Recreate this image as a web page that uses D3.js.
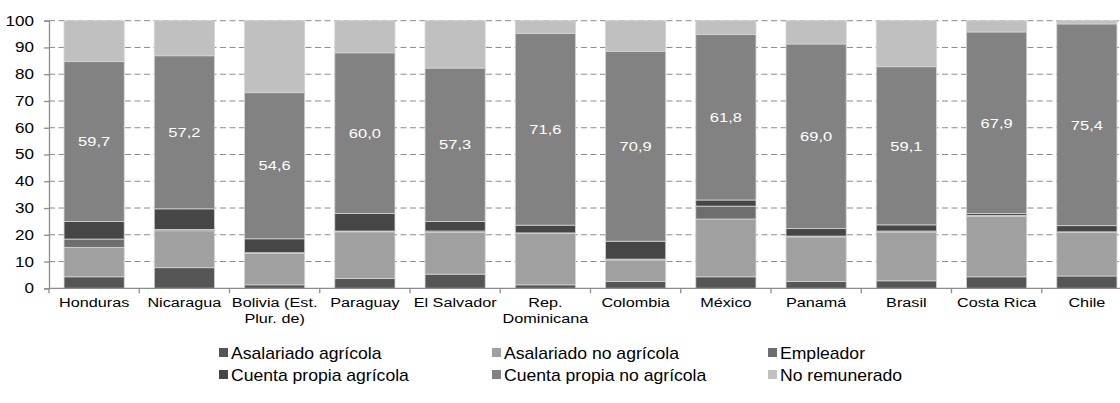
<!DOCTYPE html>
<html>
<head>
<meta charset="utf-8">
<script src="https://cdn.jsdelivr.net/npm/d3@7"></script>
<style>
  html, body { margin: 0; padding: 0; background: #ffffff; }
  svg { display: block; font-family: "Liberation Sans", Arial, sans-serif; }
</style>
</head>
<body>
<svg id="chart" width="1120" height="403"></svg>
<script>
// Countries, in the order they appear along the x axis
const categories = ["Honduras", "Nicaragua", "Bolivia (Est. Plur. de)", "Paraguay", "El Salvador",
  "Rep. Dominicana", "Colombia", "México", "Panamá", "Brasil", "Costa Rica", "Chile"];

// Share of employment by category (%), stacked bottom to top
const seriesNames = ["Asalariado agrícola", "Asalariado no agrícola", "Empleador",
  "Cuenta propia agrícola", "Cuenta propia no agrícola", "No remunerado"];

const asalariadoAgricola     = [4.3, 7.7, 1.3, 3.7, 5.3, 1.3, 2.5, 4.3, 2.5, 2.8, 4.3, 4.6];
const asalariadoNoAgricola   = [11.0, 13.8, 11.8, 17.4, 15.6, 19.2, 8.1, 21.6, 16.7, 18.2, 22.5, 16.3];
const empleador              = [3.1, 0.5, 0.2, 0.3, 0.5, 0.2, 0.3, 4.8, 0.3, 0.4, 0.4, 0.2];
const cuentaPropiaAgricola   = [6.6, 7.7, 5.2, 6.6, 3.6, 2.9, 6.7, 2.3, 2.8, 2.3, 0.7, 2.3];
const cuentaPropiaNoAgricola = [59.7, 57.2, 54.6, 60.0, 57.3, 71.6, 70.9, 61.8, 69.0, 59.1, 67.9, 75.4];
const noRemunerado           = [15.3, 13.1, 26.9, 12.0, 17.7, 4.8, 11.5, 5.2, 8.7, 17.2, 4.2, 1.2];

const yTicks = [0, 10, 20, 30, 40, 50, 60, 70, 80, 90, 100];

const seriesValues = [asalariadoAgricola, asalariadoNoAgricola, empleador,
  cuentaPropiaAgricola, cuentaPropiaNoAgricola, noRemunerado];
const colors = ["#555555", "#a0a0a0", "#6e6e6e", "#464646", "#828282", "#c0c0c0"];
const labeledSeries = 4; // values printed inside the "Cuenta propia no agrícola" segments

// text in this chart is set slightly wide
const stretch = 1.22;
const legendStretch = 1.1;

const rows = categories.map((c, i) => {
  const r = { category: c };
  seriesNames.forEach((s, k) => { r[s] = seriesValues[k][i]; });
  return r;
});
const stacked = d3.stack().keys(seriesNames)(rows);

const svg = d3.select("#chart");
const plotLeft = 49, plotRight = 1132, plotTop = 20.7, plotBottom = 288.3;

const x = d3.scaleBand().domain(categories).range([plotLeft, plotRight]).paddingInner(0.333).paddingOuter(0.1665);
const y = d3.scaleLinear().domain([0, 100]).range([plotBottom, plotTop]);

// dashed horizontal gridlines
svg.append("g")
  .selectAll("line")
  .data(yTicks.filter(t => t > 0))
  .join("line")
  .attr("x1", plotLeft).attr("x2", 1120)
  .attr("y1", d => y(d)).attr("y2", d => y(d))
  .attr("stroke", "#8c8c8c")
  .attr("stroke-width", 1)
  .attr("stroke-dasharray", "6,3.5");

// stacked bars
const layer = svg.append("g")
  .selectAll("g")
  .data(stacked)
  .join("g")
  .attr("fill", (d, i) => colors[i]);

layer.selectAll("rect")
  .data(d => d)
  .join("rect")
  .attr("x", d => x(d.data.category))
  .attr("width", x.bandwidth())
  .attr("y", d => y(d[1]))
  .attr("height", d => y(d[0]) - y(d[1]))
  .attr("stroke", "#d4d4d4")
  .attr("stroke-width", 0.8);

// value labels on the largest segment
const fmt = v => d3.format(".1f")(v).replace(".", ",");
svg.append("g")
  .selectAll("text")
  .data(stacked[labeledSeries])
  .join("text")
  .attr("transform", d => `translate(${x(d.data.category) + x.bandwidth() / 2},${y((d[0] + d[1]) / 2)}) scale(${stretch},1)`)
  .attr("dy", "0.35em")
  .attr("text-anchor", "middle")
  .attr("fill", "#ffffff")
  .style("font-size", "13.5px")
  .text(d => fmt(d.data[seriesNames[labeledSeries]]));

// y axis
const yAxis = svg.append("g")
  .attr("transform", `translate(${plotLeft},0)`)
  .call(d3.axisLeft(y).tickValues(yTicks).tickSize(5).tickPadding(10));
yAxis.select(".domain").attr("stroke", "#8c8c8c").attr("stroke-width", 1.3);
yAxis.selectAll(".tick line").attr("stroke", "#8c8c8c").attr("stroke-width", 1.3);
yAxis.selectAll(".tick text")
  .attr("fill", "#000")
  .attr("x", -15 / stretch)
  .attr("transform", `scale(${stretch},1)`)
  .style("font-size", "14px")
  .style("font-family", "'Liberation Sans', Arial, sans-serif");

// x axis baseline with tick marks between categories
const xg = svg.append("g");
xg.append("line")
  .attr("x1", plotLeft).attr("x2", 1120)
  .attr("y1", plotBottom).attr("y2", plotBottom)
  .attr("stroke", "#8c8c8c").attr("stroke-width", 1.3);
const step = x.step();
xg.selectAll("line.tick")
  .data(d3.range(categories.length + 1))
  .join("line")
  .attr("class", "tick")
  .attr("x1", i => plotLeft + i * step).attr("x2", i => plotLeft + i * step)
  .attr("y1", plotBottom).attr("y2", plotBottom + 5)
  .attr("stroke", "#8c8c8c").attr("stroke-width", 1.3);

// category labels, wrapped to the band width
const catLabels = xg.selectAll("text.cat")
  .data(categories)
  .join("text")
  .attr("class", "cat")
  .attr("transform", d => `translate(${x(d) + x.bandwidth() / 2},307) scale(${stretch},1)`)
  .attr("text-anchor", "middle")
  .attr("fill", "#000")
  .style("font-size", "13.3px");

catLabels.each(function (d) {
  const t = d3.select(this);
  const words = d.split(" ");
  const maxW = (step - 3) / stretch;
  let line = [];
  const lines = [];
  const probe = t.append("tspan");
  words.forEach(w => {
    const candidate = line.concat([w]).join(" ");
    probe.text(candidate);
    if (probe.node().getComputedTextLength() > maxW && line.length) {
      lines.push(line.join(" "));
      line = [w];
    } else {
      line.push(w);
    }
  });
  lines.push(line.join(" "));
  probe.remove();
  lines.forEach((l, i) => {
    t.append("tspan")
      .attr("x", 0)
      .attr("dy", i === 0 ? 0 : 16)
      .text(l);
  });
});

// legend: two rows of three
const legendCols = [219, 492, 768];
const legendRows = [353, 375];
const legend = svg.append("g")
  .selectAll("g")
  .data(seriesNames)
  .join("g")
  .attr("transform", (d, i) => `translate(${legendCols[i % 3]},${legendRows[Math.floor(i / 3)]})`);
legend.append("rect")
  .attr("x", 0).attr("y", -5)
  .attr("width", 9).attr("height", 9)
  .attr("fill", (d, i) => colors[i]);
legend.append("text")
  .attr("transform", `translate(12,0) scale(${legendStretch},1)`)
  .attr("dy", "0.35em")
  .attr("fill", "#000")
  .style("font-size", "16px")
  .text(d => d);
</script>
</body>
</html>
